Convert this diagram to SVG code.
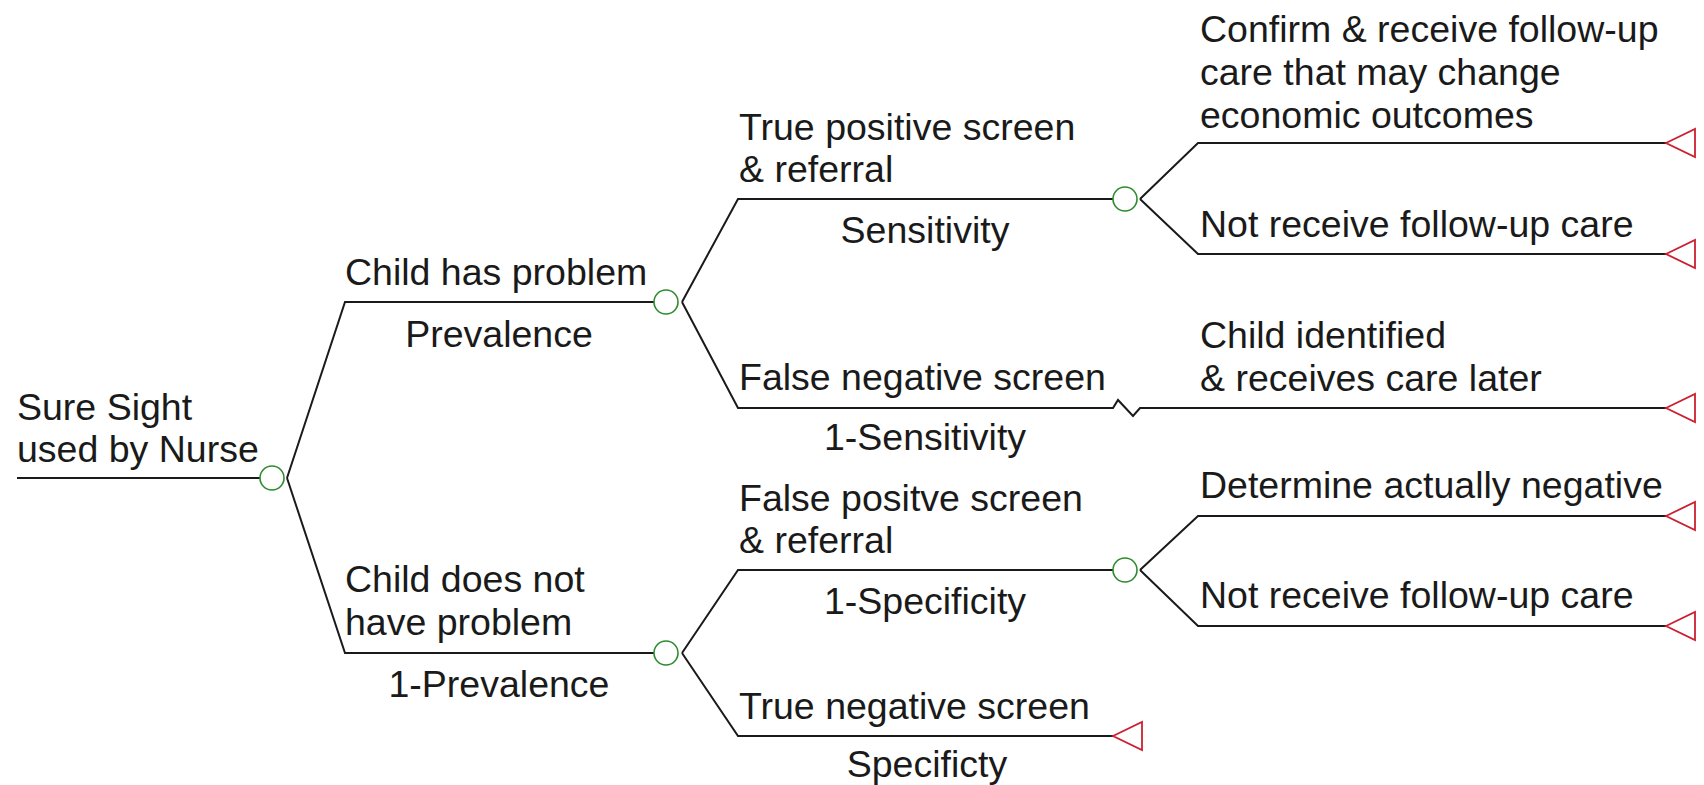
<svg xmlns="http://www.w3.org/2000/svg" width="1704" height="785" viewBox="0 0 1704 785">
<defs>
<style>
.t{font-family:"Liberation Sans",Arial,sans-serif;font-size:37.5px;fill:#1a1a1a}
.m{text-anchor:middle}
.ln{fill:none;stroke:#1a1a1a;stroke-width:2}
.ch{fill:none;stroke:#2e8b2e;stroke-width:1.6}
.tm{fill:none;stroke:#cc2030;stroke-width:1.8}
</style>
</defs>
<rect width="1704" height="785" fill="#ffffff"/>
<g id="connectors">
<path class="ln" d="M17 478H260"/>
<path class="ln" d="M287 478L345 302H654"/>
<path class="ln" d="M287 478L345 653H654"/>
<path class="ln" d="M682 302L738 199H1113"/>
<path class="ln" d="M682 302L738 408H1113L1118 400L1133 416L1140 408H1666"/>
<path class="ln" d="M682 653L738 570H1113"/>
<path class="ln" d="M682 653L738 736H1113"/>
<path class="ln" d="M1140 199L1198 143H1666"/>
<path class="ln" d="M1140 199L1198 254H1666"/>
<path class="ln" d="M1140 570L1198 516H1666"/>
<path class="ln" d="M1140 570L1198 626H1666"/>
</g>
<g id="n-root">
<text class="t" x="17" y="420">Sure Sight</text>
<text class="t" x="17" y="462">used by Nurse</text>
<circle class="ch" cx="272" cy="478" r="12"/>
</g>
<g id="n-has">
<text class="t" x="345" y="285">Child has problem</text>
<text class="t m" x="499" y="347">Prevalence</text>
<circle class="ch" cx="666" cy="302" r="12"/>
</g>
<g id="n-not">
<text class="t" x="345" y="592">Child does not</text>
<text class="t" x="345" y="635">have problem</text>
<text class="t m" x="499" y="697">1-Prevalence</text>
<circle class="ch" cx="666" cy="653" r="12"/>
</g>
<g id="n-tp">
<text class="t" x="739" y="140">True positive screen</text>
<text class="t" x="739" y="182">&amp; referral</text>
<text class="t m" x="925" y="243">Sensitivity</text>
<circle class="ch" cx="1125" cy="199" r="12"/>
</g>
<g id="n-fn">
<text class="t" x="739" y="390">False negative screen</text>
<text class="t m" x="925" y="450">1-Sensitivity</text>
</g>
<g id="n-fp">
<text class="t" x="739" y="511">False positve screen</text>
<text class="t" x="739" y="553">&amp; referral</text>
<text class="t m" x="925" y="614">1-Specificity</text>
<circle class="ch" cx="1125" cy="570" r="12"/>
</g>
<g id="n-tn">
<text class="t" x="739" y="719">True negative screen</text>
<text class="t m" x="927" y="777">Specificty</text>
<polygon class="tm" points="1113,736 1142,722 1142,750"/>
</g>
<g id="n-confirm">
<text class="t" x="1200" y="42">Confirm &amp; receive follow-up</text>
<text class="t" x="1200" y="85">care that may change</text>
<text class="t" x="1200" y="128">economic outcomes</text>
<polygon class="tm" points="1666,143 1695,129 1695,157"/>
</g>
<g id="n-notrec1">
<text class="t" x="1200" y="237">Not receive follow-up care</text>
<polygon class="tm" points="1666,254 1695,240 1695,268"/>
</g>
<g id="n-later">
<text class="t" x="1200" y="348">Child identified</text>
<text class="t" x="1200" y="391">&amp; receives care later</text>
<polygon class="tm" points="1666,408 1695,394 1695,422"/>
</g>
<g id="n-determine">
<text class="t" x="1200" y="498">Determine actually negative</text>
<polygon class="tm" points="1666,516 1695,502 1695,530"/>
</g>
<g id="n-notrec2">
<text class="t" x="1200" y="608">Not receive follow-up care</text>
<polygon class="tm" points="1666,626 1695,612 1695,640"/>
</g>
</svg>
